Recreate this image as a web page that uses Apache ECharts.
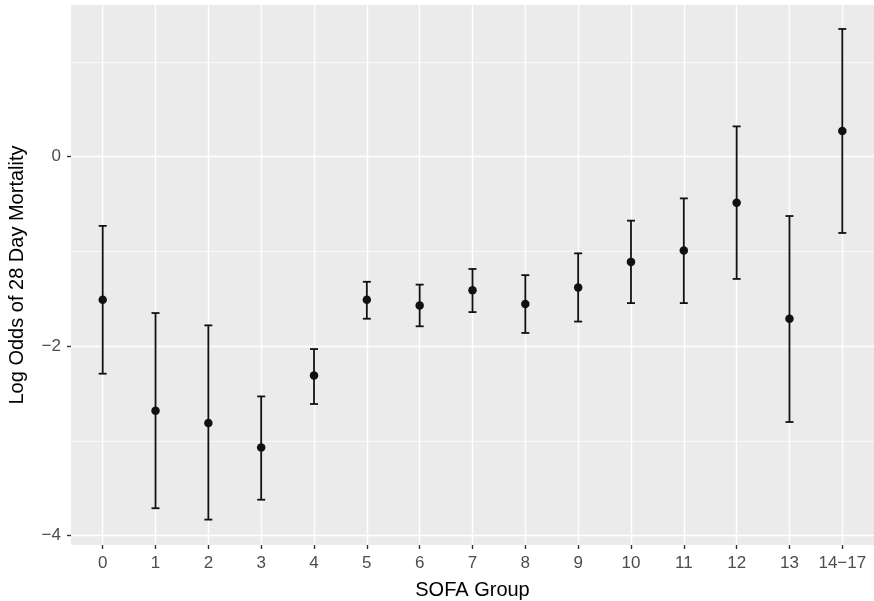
<!DOCTYPE html>
<html>
<head>
<meta charset="utf-8">
<script src="https://cdn.jsdelivr.net/npm/echarts@6/dist/echarts.min.js"></script>
<style>
  html, body { margin: 0; padding: 0; background: #fff; }
  #chart { width: 874px; height: 601px; }
</style>
</head>
<body>
<div id="chart"></div>
<script>
// SOFA groups on x, log odds of 28 day mortality on y
var categories = ['0', '1', '2', '3', '4', '5', '6', '7', '8', '9', '10', '11', '12', '13', '14\u221217'];
var estimate = [-1.51, -2.68, -2.81, -3.07, -2.31, -1.51, -1.57, -1.41, -1.555, -1.38, -1.11, -0.99, -0.485, -1.71, 0.27];
var lower    = [-2.29, -3.71, -3.83, -3.62, -2.61, -1.71, -1.79, -1.64, -1.86, -1.74, -1.545, -1.545, -1.29, -2.80, -0.805];
var upper    = [-0.73, -1.65, -1.78, -2.53, -2.03, -1.32, -1.35, -1.185, -1.25, -1.02, -0.675, -0.44, 0.32, -0.626, 1.348];
var yMajor = [-4, -2, 0];
var yMinor = [-3, -1, 1];

var font = '"Liberation Sans", Arial, Helvetica, sans-serif';
var xIdx = categories.map(function (c, i) { return i; });
var barData = categories.map(function (c, i) { return [i, lower[i], upper[i]]; });
var pointData = categories.map(function (c, i) { return [i, estimate[i]]; });

var chart = echarts.init(document.getElementById('chart'));
chart.setOption({
    animation: false,
    grid: {
        left: 71, right: 0, top: 5, bottom: 56,
        outerBoundsMode: 'none',
        containLabel: false,
        show: true, backgroundColor: '#EBEBEB', borderWidth: 0
    },
    xAxis: {
        type: 'value',
        min: -0.6, max: 14.6,
        name: 'SOFA Group',
        nameLocation: 'middle',
        nameGap: 35,
        nameTextStyle: { color: '#000', fontSize: 20, fontFamily: font },
        axisLine: { show: false, onZero: false },
        axisTick: { show: true, length: 4, customValues: xIdx, lineStyle: { color: '#333', width: 1.4 } },
        axisLabel: {
            customValues: xIdx, margin: 10,
            color: '#4D4D4D', fontSize: 17, fontFamily: font,
            formatter: function (v) { return categories[Math.round(v)]; }
        },
        splitLine: { show: true, lineStyle: { color: '#fff', width: 1.4 } }
    },
    yAxis: [{
        type: 'value',
        min: -4.098, max: 1.601,
        name: 'Log Odds of 28 Day Mortality',
        nameLocation: 'middle',
        nameGap: 44,
        nameTextStyle: { color: '#000', fontSize: 20, fontFamily: font },
        axisLine: { show: false, onZero: false },
        axisTick: { show: true, length: 4, customValues: yMajor, lineStyle: { color: '#333', width: 1.4 } },
        axisLabel: {
            customValues: yMajor, margin: 10,
            color: '#4D4D4D', fontSize: 17, fontFamily: font,
            formatter: function (v) { return String(v).replace('-', '\u2212'); }
        },
        splitLine: { show: true, lineStyle: { color: '#fff', width: 1.4 } }
    }, {
        type: 'value',
        position: 'left',
        min: -4.098, max: 1.601,
        axisLine: { show: false, onZero: false },
        axisTick: { show: false, customValues: yMinor },
        axisLabel: { show: false, customValues: yMinor },
        splitLine: { show: true, lineStyle: { color: '#fff', width: 0.7 } }
    }],
    series: [{
        type: 'custom',
        data: barData,
        renderItem: function (params, api) {
            var x = api.value(0);
            var lo = api.coord([x, api.value(1)]);
            var hi = api.coord([x, api.value(2)]);
            var w = 4;
            var style = { stroke: '#111', lineWidth: 1.8 };
            return {
                type: 'group',
                children: [
                    { type: 'line', shape: { x1: lo[0], y1: lo[1], x2: hi[0], y2: hi[1] }, style: style },
                    { type: 'line', shape: { x1: hi[0] - w, y1: hi[1], x2: hi[0] + w, y2: hi[1] }, style: style },
                    { type: 'line', shape: { x1: lo[0] - w, y1: lo[1], x2: lo[0] + w, y2: lo[1] }, style: style }
                ]
            };
        },
        z: 2
    }, {
        type: 'scatter',
        data: pointData,
        symbol: 'circle',
        symbolSize: 8.5,
        itemStyle: { color: '#111', opacity: 1 },
        z: 3
    }]
});
</script>
</body>
</html>
